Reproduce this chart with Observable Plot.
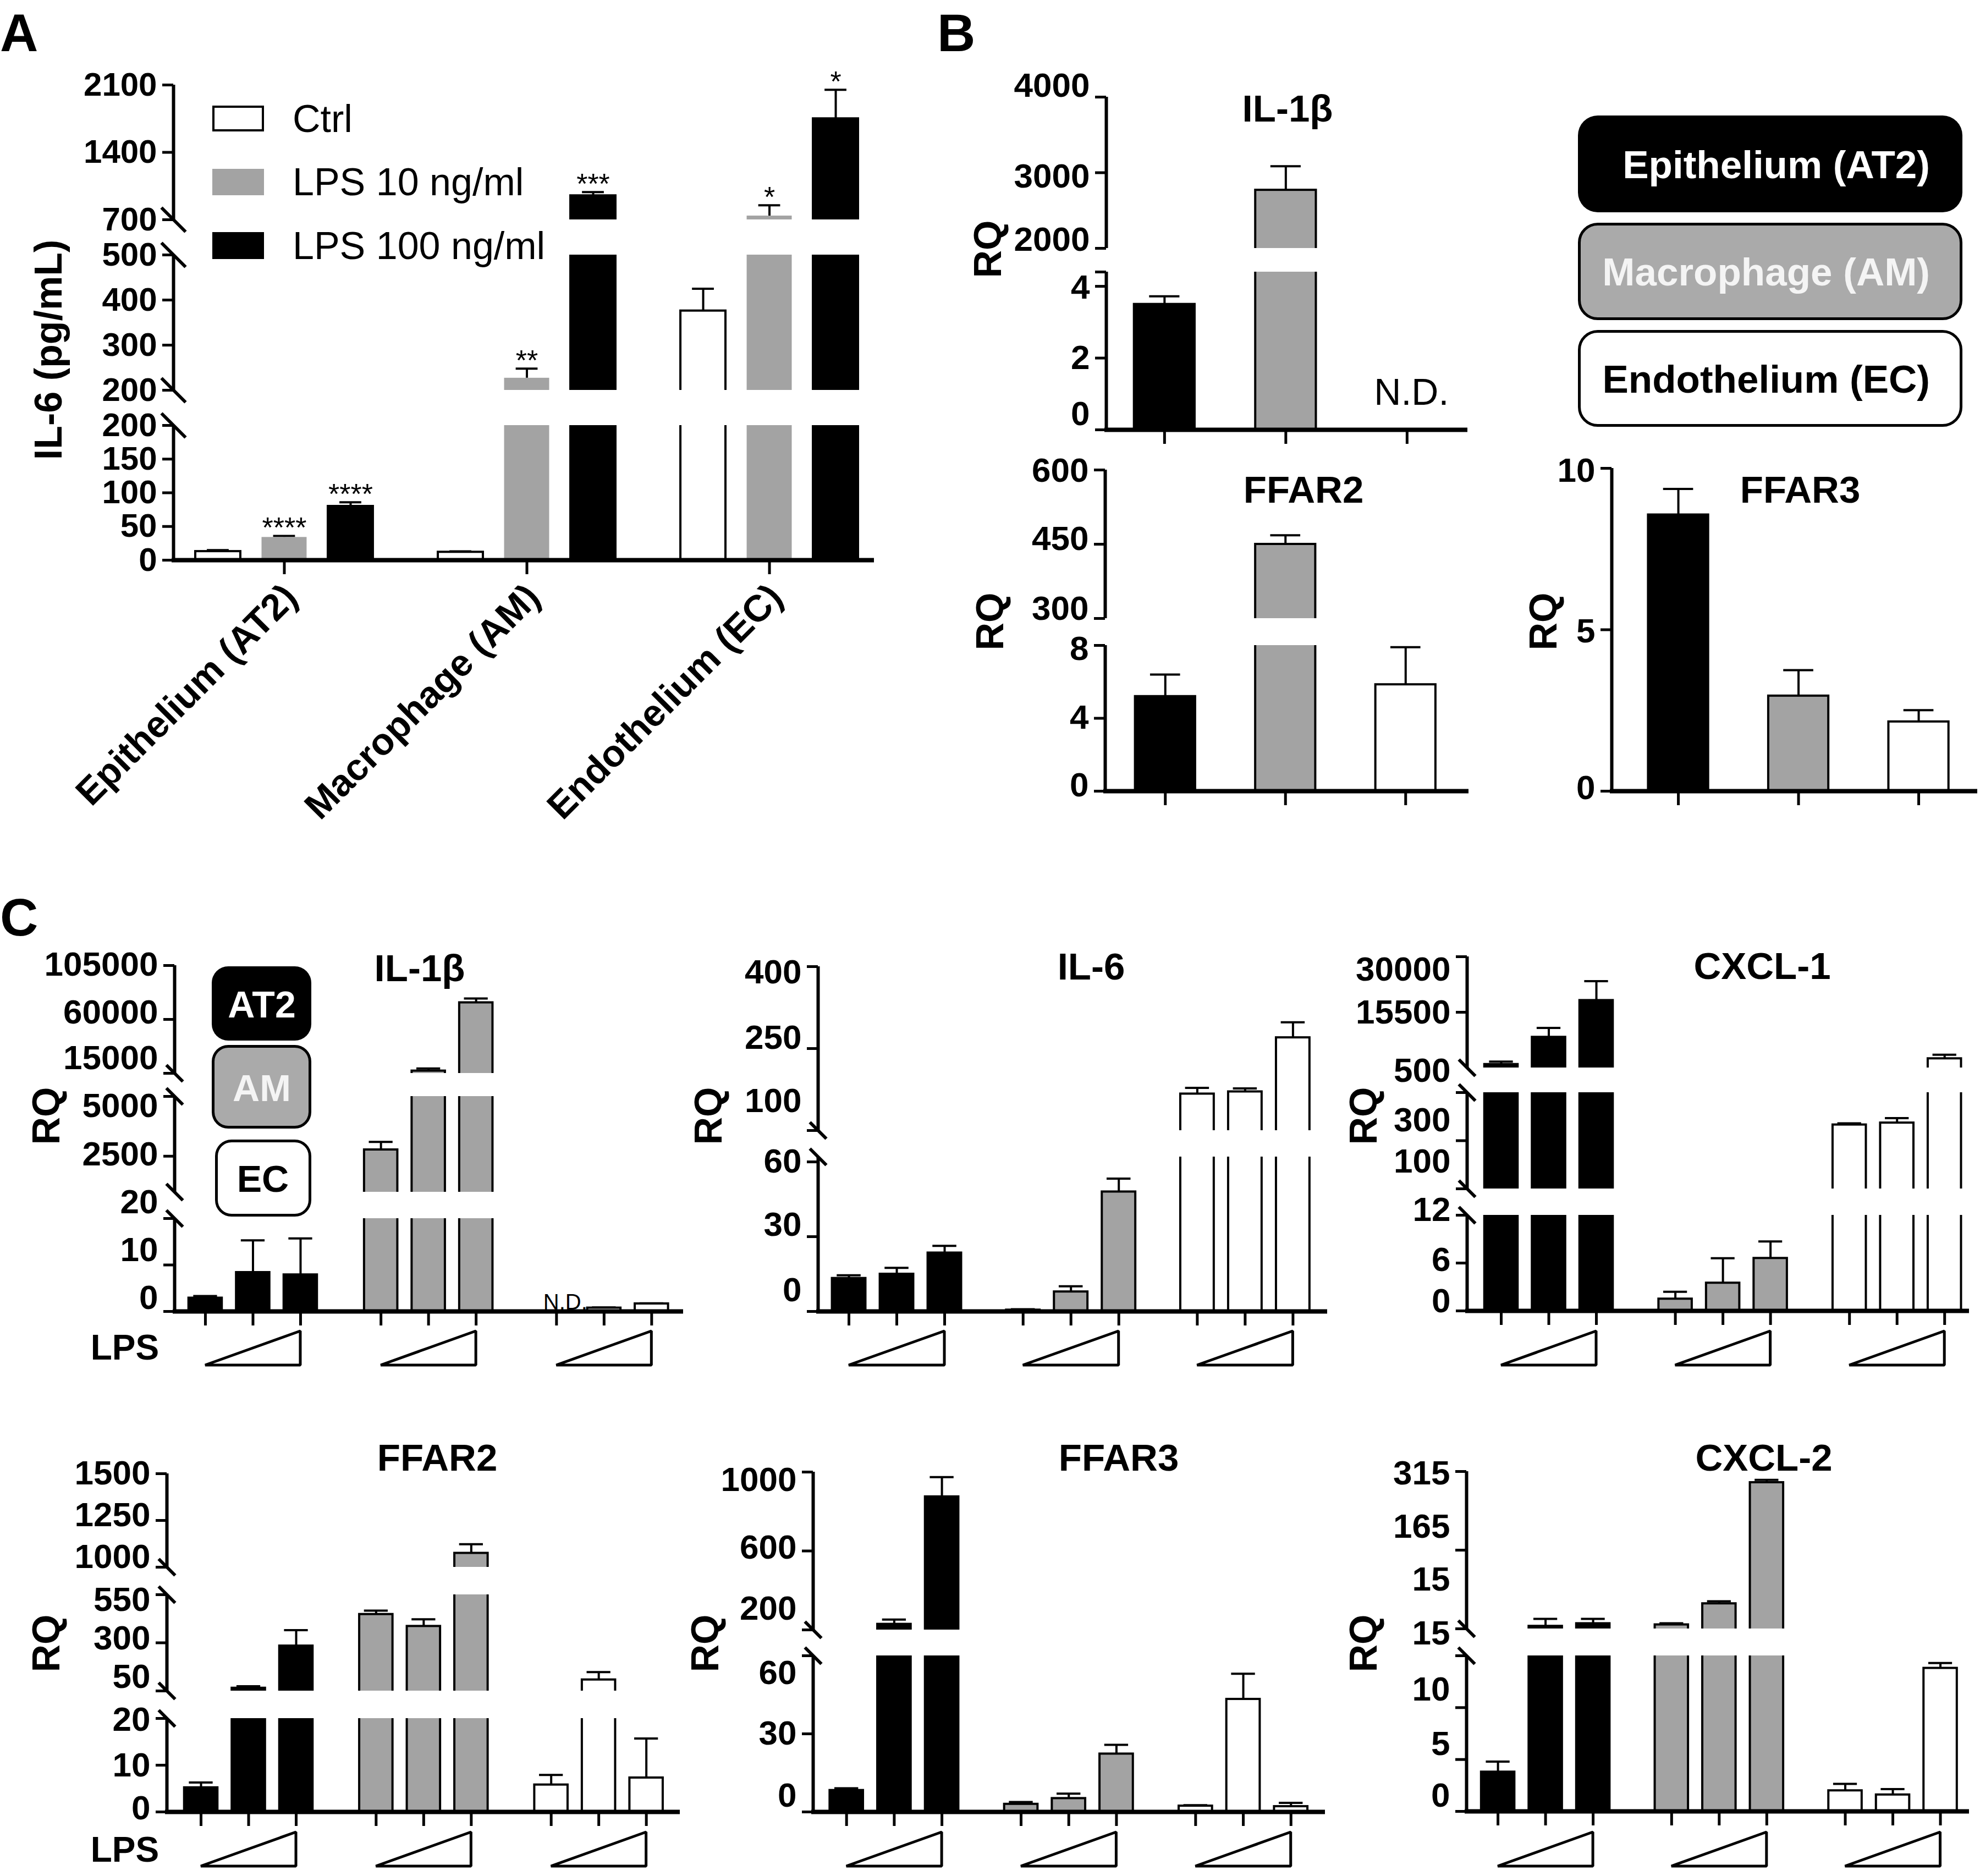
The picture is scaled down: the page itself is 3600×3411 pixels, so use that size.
<!DOCTYPE html>
<html>
<head>
<meta charset="utf-8">
<script src="https://cdn.jsdelivr.net/npm/d3@7"></script>
<script src="https://cdn.jsdelivr.net/npm/@observablehq/plot@0.6"></script>
<style>
html, body { margin: 0; padding: 0; background: #fff; }
#fig { position: relative; width: 3600px; height: 3411px; background: #fff; overflow: hidden;
       font-family: "Liberation Sans", Arimo, Arial, Helvetica, sans-serif; color: #000; }
#fig svg { overflow: visible; }
</style>
</head>
<body>
<div id="fig"></div>
<script>
// ===================== DATA =====================
const cellTypes = ["Epithelium (AT2)", "Macrophage (AM)", "Endothelium (EC)"];
const cellCodes = ["AT2", "AM", "EC"];
const treatments = ["Ctrl", "LPS 10 ng/ml", "LPS 100 ng/ml"];
const lpsRamp = [0, 0.5, 1]; // relative LPS dose shown by the wedge

// Panel A: IL-6 protein (pg/mL); rows = cell type, columns = treatment
const aIL6Mean = [[13, 34, 80], [12, 227, 950], [376, 740, 1750]];
const aIL6Err  = [[2, 2, 6], [1, 21, 37], [49, 110, 300]];
const aIL6Sig  = [["", "****", "****"], ["", "**", "***"], ["", "*", "*"]];
const aDomains = [[0, 200], [200, 500], [700, 2100]];
const aTicks   = [[0, 50, 100, 150, 200], [200, 300, 400, 500], [700, 1400, 2100]];

// Panel B: basal RQ, one bar per cell type (AT2, AM, EC)
const bIL1bMean = [[3.5], [2770], [null]];
const bIL1bErr  = [[0.22], [315], [0]];
const bIL1bDomains = [[0, 4.4], [2000, 4000]];
const bIL1bTicks   = [[0, 2, 4], [2000, 3000, 4000]];
const bFFAR2Mean = [[5.2], [450], [5.85]];
const bFFAR2Err  = [[1.2], [18], [2.05]];
const bFFAR2Domains = [[0, 8], [300, 600]];
const bFFAR2Ticks   = [[0, 4, 8], [300, 450, 600]];
const bFFAR3Mean = [[8.56], [2.95], [2.15]];
const bFFAR3Err  = [[0.8], [0.8], [0.36]];
const bFFAR3Domains = [[0, 10]];
const bFFAR3Ticks   = [[0, 5, 10]];

// Panel C: RQ with increasing LPS; rows = AT2, AM, EC; columns = LPS dose
const cIL1bMean = [[2.9, 8.4, 7.9], [2770, 17000, 74000], [null, 0.76, 1.66]];
const cIL1bErr  = [[0.4, 6.9, 7.8], [330, 2000, 3400], [0, 0.1, 0.1]];
const cIL1bDomains = [[0, 20], [1000, 5000], [15000, 105000]];
const cIL1bTicks   = [[0, 10, 20], [2500, 5000], [15000, 60000, 105000]];

const cIL6Mean = [[13.3, 15, 23.5], [0.6, 7.9, 48], [167, 171, 270]];
const cIL6Err  = [[1.2, 2.5, 2.8], [0.3, 2.2, 5.3], [11, 6, 28]];
const cIL6Domains = [[0, 62], [100, 400]];
const cIL6Ticks   = [[0, 30, 60], [100, 250, 400]];

const cCXCL1Mean = [[1900, 9000, 18600], [1.5, 3.5, 6.6], [366, 374, 3400]];
const cCXCL1Err  = [[700, 2400, 5000], [0.9, 3.1, 2.1], [6, 20, 1000]];
const cCXCL1Domains = [[0, 12], [100, 500], [1000, 30000]];
const cCXCL1Ticks   = [[0, 6, 12], [100, 300, 500], [15500, 30000]];

const cFFAR2Mean = [[5.2, 65, 284], [448, 386, 1075], [5.8, 108, 7.3]];
const cFFAR2Err  = [[1.1, 9, 82], [19, 36, 48], [2.1, 40, 8.4]];
const cFFAR2Domains = [[0, 20], [50, 550], [1000, 1500]];
const cFFAR2Ticks   = [[0, 10, 20], [50, 300, 550], [1000, 1250, 1500]];

const cFFAR3Mean = [[8.3, 229, 875], [3, 5.2, 22.3], [2.3, 43.3, 2.1]];
const cFFAR3Err  = [[0.8, 23, 99], [0.8, 1.8, 3.5], [0.3, 9.8, 1.4]];
const cFFAR3Domains = [[0, 60], [200, 1000]];
const cFFAR3Ticks   = [[0, 30, 60], [200, 600, 1000]];

const cCXCL2Mean = [[3.8, 20, 25], [22.8, 63, 294], [2.0, 1.6, 13.8]];
const cCXCL2Err  = [[1.0, 14, 9], [2.7, 4.5, 5], [0.65, 0.55, 0.5]];
const cCXCL2Domains = [[0, 15], [15, 315]];
const cCXCL2Ticks   = [[0, 5, 10, 15], [15, 165, 315]];

// ===================== STYLE / LAYOUT =====================
const GRAY = "#a3a3a3";
const FONT = '"Liberation Sans", Arimo, Arial, Helvetica, sans-serif';
const treatFill = ["white", GRAY, "black"], treatStroke = ["black", "none", "black"];
const cellFill = ["black", GRAY, "white"], cellStroke = ["black", "black", "black"];

const baseA = {barW: 0.68, capW: 0.33, errW: 4, barStrokeW: 4, yAxisW: 6, xAxisW: 8, tickLen: 20, tickW: 5,
  tickPad: 10, tickFont: 60, breakR: 22, xTickLen: 26};
const baseB = {barW: 0.5, capW: 0.25, errW: 4, barStrokeW: 4, yAxisW: 6, xAxisW: 8, tickLen: 20, tickW: 5,
  tickPad: 10, tickFont: 62, breakR: 0, xTickLen: 26};
const baseC = {barW: 0.70, capW: 0.5, errW: 4, barStrokeW: 4, yAxisW: 6, xAxisW: 8, tickLen: 20, tickW: 5,
  tickPad: 10, tickFont: 62, breakR: 15, xTickLen: 26};

const fig = document.getElementById("fig");
const slash = {draw(ctx, size) { const r = Math.sqrt(size / Math.PI); ctx.moveTo(-r, -r); ctx.lineTo(r, r); }};

function place(node, left, top) {
  node.style.position = "absolute";
  node.style.left = left + "px";
  node.style.top = top + "px";
  node.style.maxWidth = "none";
  fig.appendChild(node);
}

function chart(p) {
  const L = p.layout;
  const xDomain = [-L.firstOffset, (L.axisEnd - L.axisX) / L.slot - L.firstOffset];
  const bars = [];
  p.means.forEach((row, g) => row.forEach((v, i) => {
    const c = p.colorBy === "treatment" ? i : g;
    bars.push({g, i, pos: g * L.groupStep + i, v, e: p.errs[g][i] || 0,
      fill: p.fills[c], stroke: p.strokes[c], sig: p.sig ? p.sig[g][i] : ""});
  }));
  const drawn = bars.filter(d => d.v != null);
  const withErr = drawn.filter(d => d.e > 0);
  const ML = 330, MR = 40;
  const W = (L.axisEnd - L.axisX) + ML + MR;
  const style = {background: "none", overflow: "visible", fontFamily: FONT, color: "black", maxWidth: "none"};

  p.domains.forEach((dom, k) => {
    const S = L.segs[k];
    const bottom = k === 0;
    const MT = 70, MB = bottom ? 90 : 70;
    const inDom = y => y >= dom[0] && y <= dom[1];
    const segBars = bottom ? drawn : drawn.filter(d => d.v > dom[0]);
    const segErr = withErr.filter(d => d.v + d.e > dom[0] && d.v < dom[1]);
    const segCaps = withErr.filter(d => inDom(d.v + d.e));
    const dys = L.labelDys ? L.labelDys[k] : p.ticks[k].map(() => 0);
    const marks = [
      Plot.ruleX(segErr, {x: "pos", y1: "v", y2: d => d.v + d.e, stroke: "black", strokeWidth: L.errW, clip: true}),
      Plot.ruleY(segCaps, {y: d => d.v + d.e, x1: d => d.pos - L.capW / 2, x2: d => d.pos + L.capW / 2,
        stroke: "black", strokeWidth: L.errW}),
      Plot.rect(segBars, {x1: d => d.pos - L.barW / 2, x2: d => d.pos + L.barW / 2, y1: 0, y2: "v",
        fill: "fill", stroke: "stroke", strokeWidth: L.barStrokeW, clip: true}),
      Plot.ruleX([xDomain[0]], {x: d => d, y1: dom[0], y2: dom[1], stroke: "black", strokeWidth: L.yAxisW}),
      Plot.axisY({ticks: p.ticks[k], anchor: "left", tickSize: L.tickLen, strokeWidth: L.tickW,
        tickFormat: () => "", label: null})
    ];
    p.ticks[k].forEach((t, j) => marks.push(Plot.text([t], {x: xDomain[0], y: d => d, text: d => String(d),
      textAnchor: "end", dx: -(L.tickLen + L.tickPad), dy: dys[j], fontSize: L.tickFont, fontWeight: "bold"})));
    if (L.breakR) {
      const ends = [];
      if (k > 0) ends.push(dom[0]);
      if (k < p.domains.length - 1) ends.push(dom[1]);
      marks.push(Plot.dot(ends, {x: xDomain[0], y: d => d, symbol: slash, r: L.breakR,
        stroke: "black", strokeWidth: L.yAxisW, fill: "none"}));
    }
    if (L.bracket) {
      marks.push(Plot.axisY({ticks: dom, anchor: "left", tickSize: L.tickLen, strokeWidth: L.tickW,
        tickFormat: () => "", label: null}));
    }
    if (p.sig) {
      marks.push(Plot.text(drawn.filter(d => d.sig && inDom(d.v + d.e)), {x: "pos", y: d => d.v + d.e,
        text: "sig", dy: L.sigDy, fontSize: L.sigFont, fontWeight: "normal"}));
    }
    if (bottom) {
      marks.push(Plot.ruleY([dom[0]], {y: d => d, x1: xDomain[0] - (L.yAxisW / 2) / L.slot, x2: xDomain[1],
        stroke: "black", strokeWidth: L.xAxisW}));
      const tickPos = p.xTicks === "groups"
        ? p.means.map((row, g) => g * L.groupStep + (row.length - 1) / 2)
        : bars.map(d => d.pos);
      marks.push(Plot.axisX({ticks: tickPos, anchor: "bottom", tickSize: L.xTickLen, strokeWidth: L.tickW,
        tickFormat: () => "", label: null}));
      if (p.xLabels) {
        marks.push(Plot.text(tickPos, {x: d => d, y: dom[0], text: (d, i) => p.xLabels[i], rotate: -45,
          textAnchor: "end", dx: L.xLabelDx, dy: L.xLabelDy, fontSize: L.xLabelFont, fontWeight: "bold"}));
      }
      if (L.ndFont) {
        marks.push(Plot.text(bars.filter(d => d.v == null), {x: "pos", y: dom[0], text: () => "N.D.",
          dx: L.ndDx, dy: L.ndDy, fontSize: L.ndFont, fontWeight: "normal"}));
      }
    }
    const svg = Plot.plot({
      width: W, height: (S.bottom - S.top) + MT + MB,
      marginLeft: ML, marginRight: MR, marginTop: MT, marginBottom: MB,
      x: {type: "linear", domain: xDomain, axis: null},
      y: {type: "linear", domain: dom, axis: null},
      color: {type: "identity"},
      style, marks
    });
    place(svg, L.axisX - ML, S.top - MT);
  });

  if (L.tri) {
    const tri = [];
    p.means.forEach((row, g) => row.forEach((v, i) => tri.push({g, pos: g * L.groupStep + i, lvl: lpsRamp[i]})));
    const MT = 20, MB = 20;
    const svg = Plot.plot({
      width: W, height: (L.tri[0] - L.tri[1]) + MT + MB,
      marginLeft: ML, marginRight: MR, marginTop: MT, marginBottom: MB,
      x: {type: "linear", domain: xDomain, axis: null},
      y: {type: "linear", domain: [0, 1], axis: null},
      style,
      marks: [Plot.areaY(tri, {x: "pos", y1: 0, y2: "lvl", z: "g", fill: "white", stroke: "black",
        strokeWidth: 5, strokeLinejoin: "miter"})]
    });
    place(svg, L.axisX - ML, L.tri[1] - MT);
  }
}

// ---------- HTML text & boxes ----------
function addText(str, o) {
  const d = document.createElement("div");
  d.textContent = str;
  const tx = o.anchor === "start" ? "0" : o.anchor === "end" ? "-100%" : "-50%";
  Object.assign(d.style, {
    position: "absolute", left: o.x + "px", top: o.y + "px", fontFamily: FONT,
    fontSize: o.size + "px", fontWeight: o.weight || "bold", color: o.color || "#000",
    whiteSpace: "nowrap", lineHeight: "1",
    transform: `translate(${tx}, -50%)` + (o.rotate ? ` rotate(${o.rotate}deg)` : "")
  });
  fig.appendChild(d);
}
function addBox(o) {
  const d = document.createElement("div");
  Object.assign(d.style, {
    position: "absolute", left: o.x + "px", top: o.y + "px", width: o.w + "px", height: o.h + "px",
    boxSizing: "border-box", background: o.fill, border: o.border || "none", borderRadius: (o.r || 0) + "px"
  });
  fig.appendChild(d);
}

// ===================== PANEL A =====================
chart({
  layout: {...baseA, axisX: 315, axisEnd: 1589, slot: 120.5, firstOffset: 0.672, groupStep: 3.66,
    segs: [{bottom: 1018, top: 773}, {bottom: 709, top: 463}, {bottom: 399, top: 154}],
    sigDy: -14, sigFont: 52, xLabelFont: 68, xLabelDx: 12, xLabelDy: 56},
  means: aIL6Mean, errs: aIL6Err, sig: aIL6Sig, domains: aDomains, ticks: aTicks,
  colorBy: "treatment", fills: treatFill, strokes: treatStroke, xTicks: "groups", xLabels: cellTypes
});
addText("A", {x: 0, y: 60, size: 96, anchor: "start"});
addText("IL-6 (pg/mL)", {x: 88, y: 636, size: 70, rotate: -90});
[[treatments[0], 192, 239], [treatments[1], 307, 355], [treatments[2], 422, 471]].forEach(([t, y0, y1], i) => {
  addBox({x: 386, y: y0, w: 94, h: y1 - y0, fill: treatFill[i], border: i === 0 ? "4px solid #000" : "none"});
  addText(t, {x: 532, y: (y0 + y1) / 2, size: 70, weight: "normal", anchor: "start"});
});

// ===================== PANEL B =====================
chart({
  layout: {...baseB, axisX: 2011, axisEnd: 2668, slot: 220.5, firstOffset: 0.48, groupStep: 1, bracket: true,
    segs: [{bottom: 781, top: 494}, {bottom: 451, top: 176}], ndFont: 68, ndDx: 8, ndDy: -67,
    labelDys: [[-28, 0, 3], [-15, 7, -20]]},
  means: bIL1bMean, errs: bIL1bErr, domains: bIL1bDomains, ticks: bIL1bTicks,
  colorBy: "group", fills: cellFill, strokes: cellStroke
});
chart({
  layout: {...baseB, axisX: 2009, axisEnd: 2670, slot: 218.5, firstOffset: 0.5, groupStep: 1,
    segs: [{bottom: 1438, top: 1173}, {bottom: 1124, top: 854}],
    labelDys: [[-10, -1, 7], [-17, -9, 2]]},
  means: bFFAR2Mean, errs: bFFAR2Err, domains: bFFAR2Domains, ticks: bFFAR2Ticks,
  colorBy: "group", fills: cellFill, strokes: cellStroke
});
chart({
  layout: {...baseB, axisX: 2930, axisEnd: 3595, slot: 218.5, firstOffset: 0.554, groupStep: 1,
    segs: [{bottom: 1438, top: 851}], labelDys: [[-5, 3, 5]]},
  means: bFFAR3Mean, errs: bFFAR3Err, domains: bFFAR3Domains, ticks: bFFAR3Ticks,
  colorBy: "group", fills: cellFill, strokes: cellStroke
});
addText("B", {x: 1704, y: 60, size: 96, anchor: "start"});
addText("IL-1β", {x: 2341, y: 197, size: 69});
addText("FFAR2", {x: 2370, y: 890, size: 69});
addText("FFAR3", {x: 3273, y: 890, size: 69});
addText("RQ", {x: 1796, y: 453, size: 70, rotate: -90});
addText("RQ", {x: 1800, y: 1130, size: 70, rotate: -90});
addText("RQ", {x: 2806, y: 1130, size: 70, rotate: -90});
// legend boxes
addBox({x: 2869, y: 210, w: 699, h: 176, fill: "#000", r: 36});
addBox({x: 2869, y: 405, w: 699, h: 177, fill: "#aaaaaa", border: "5px solid #000", r: 36});
addBox({x: 2869, y: 600, w: 699, h: 176, fill: "#fff", border: "5px solid #000", r: 36});
addText(cellTypes[0], {x: 3509, y: 299, size: 71, anchor: "end", color: "#fff"});
addText(cellTypes[1], {x: 3509, y: 494, size: 71, anchor: "end", color: "#f4f4f4"});
addText(cellTypes[2], {x: 3509, y: 689, size: 71, anchor: "end", color: "#000"});

// ===================== PANEL C =====================
const row1 = {tri: [2482, 2420]}, row2 = {tri: [3393, 3331]};
chart({
  layout: {...baseC, ...row1, axisX: 317, axisEnd: 1242, slot: 86.5, firstOffset: 0.647, groupStep: 3.69,
    segs: [{bottom: 2384, top: 2215}, {bottom: 2167, top: 1993}, {bottom: 1951, top: 1755}],
    ndFont: 40, ndDx: 16, ndDy: -16,
    labelDys: [[-24, -27, -29], [-3, 18], [-27, -12, -1]]},
  means: cIL1bMean, errs: cIL1bErr, domains: cIL1bDomains, ticks: cIL1bTicks,
  colorBy: "group", fills: cellFill, strokes: cellStroke
});
chart({
  layout: {...baseC, ...row1, axisX: 1487, axisEnd: 2413, slot: 87, firstOffset: 0.644, groupStep: 3.64,
    segs: [{bottom: 2384, top: 2103}, {bottom: 2055, top: 1757}],
    labelDys: [[-38, -21, 0], [-53, -19, 11]]},
  means: cIL6Mean, errs: cIL6Err, domains: cIL6Domains, ticks: cIL6Ticks,
  colorBy: "group", fills: cellFill, strokes: cellStroke
});
chart({
  layout: {...baseC, ...row1, axisX: 2667, axisEnd: 3580, slot: 86.5, firstOffset: 0.717, groupStep: 3.66,
    segs: [{bottom: 2383, top: 2209}, {bottom: 2161, top: 1986}, {bottom: 1941, top: 1739}],
    labelDys: [[-17, -5, -9], [-49, -37, -39], [1, 24]]},
  means: cCXCL1Mean, errs: cCXCL1Err, domains: cCXCL1Domains, ticks: cCXCL1Ticks,
  colorBy: "group", fills: cellFill, strokes: cellStroke
});
chart({
  layout: {...baseC, ...row2, axisX: 303, axisEnd: 1236, slot: 86.5, firstOffset: 0.717, groupStep: 3.68,
    segs: [{bottom: 3294, top: 3124}, {bottom: 3074, top: 2899}, {bottom: 2849, top: 2679}],
    labelDys: [[-6, 1, 3], [-25, -8, 10], [-18, -9, 0]]},
  means: cFFAR2Mean, errs: cFFAR2Err, domains: cFFAR2Domains, ticks: cFFAR2Ticks,
  colorBy: "group", fills: cellFill, strokes: cellStroke
});
chart({
  layout: {...baseC, ...row2, axisX: 1478, axisEnd: 2409, slot: 86.7, firstOffset: 0.70, groupStep: 3.66,
    segs: [{bottom: 3294, top: 3010}, {bottom: 2963, top: 2676}],
    labelDys: [[-29, 0, 32], [-38, -6, 15]]},
  means: cFFAR3Mean, errs: cFFAR3Err, domains: cFFAR3Domains, ticks: cFFAR3Ticks,
  colorBy: "group", fills: cellFill, strokes: cellStroke
});
chart({
  layout: {...baseC, ...row2, axisX: 2666, axisEnd: 3580, slot: 86.5, firstOffset: 0.66, groupStep: 3.65,
    segs: [{bottom: 3293, top: 3010}, {bottom: 2961, top: 2675}],
    labelDys: [[-28, -28, -33, -40], [-89, -42, 4]]},
  means: cCXCL2Mean, errs: cCXCL2Err, domains: cCXCL2Domains, ticks: cCXCL2Ticks,
  colorBy: "group", fills: cellFill, strokes: cellStroke
});
addText("C", {x: 0, y: 1668, size: 96, anchor: "start"});
[["IL-1β", 763, 1760], ["IL-6", 1984, 1757], ["CXCL-1", 3204, 1756],
 ["FFAR2", 795, 2650], ["FFAR3", 2034, 2650], ["CXCL-2", 3207, 2650]].forEach(([t, x, y]) =>
  addText(t, {x, y, size: 69}));
[[84, 2029], [1288, 2029], [2479, 2029], [84, 2988], [1282, 2988], [2479, 2988]].forEach(([x, y]) =>
  addText("RQ", {x, y, size: 70, rotate: -90}));
addText("LPS", {x: 227, y: 2450, size: 64});
addText("LPS", {x: 227, y: 3363, size: 64});
// small cell-type key
addBox({x: 385, y: 1757, w: 181, h: 135, fill: "#000", r: 30});
addBox({x: 385, y: 1900, w: 181, h: 152, fill: "#aaaaaa", border: "5px solid #000", r: 30});
addBox({x: 391, y: 2072, w: 175, h: 140, fill: "#fff", border: "5px solid #000", r: 30});
addText(cellCodes[0], {x: 476, y: 1826, size: 68, color: "#fff"});
addText(cellCodes[1], {x: 476, y: 1978, size: 68, color: "#f4f4f4"});
addText(cellCodes[2], {x: 478, y: 2143, size: 68, color: "#000"});
</script>
</body>
</html>
